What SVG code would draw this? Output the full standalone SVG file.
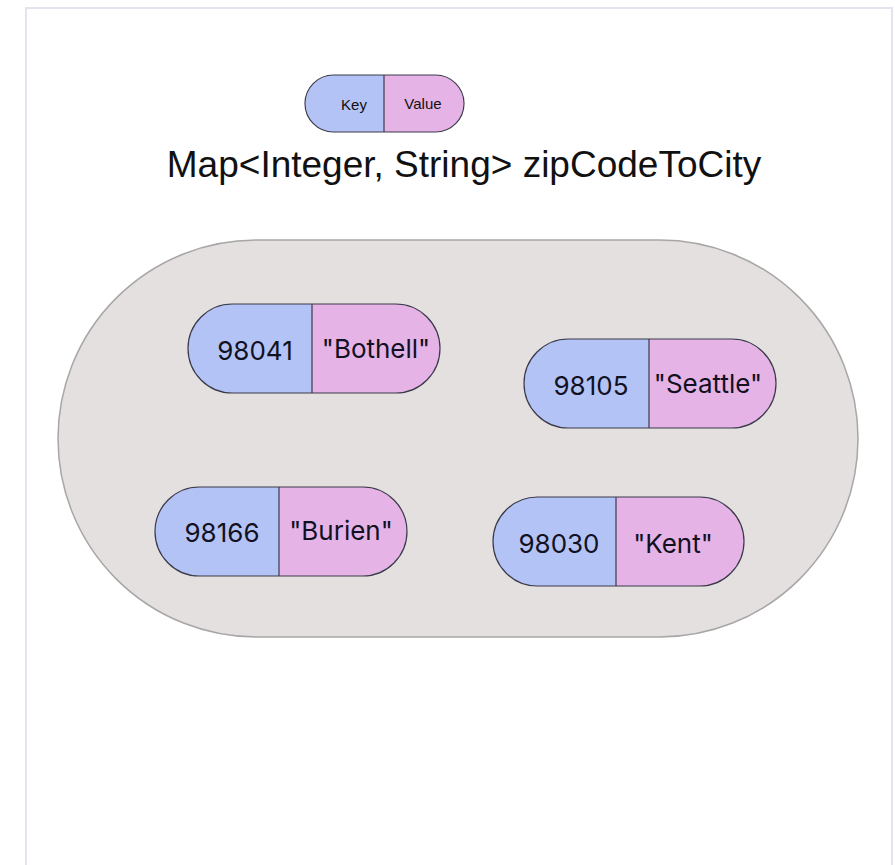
<svg xmlns="http://www.w3.org/2000/svg" width="895" height="865" viewBox="0 0 895 865">
<style>
.key{fill:#b4c3f6;}
.val{fill:#e5b3e6;}
.outline{fill:none;stroke:#3a3a4a;stroke-width:1.2;}
.div{stroke:#3a3a4a;stroke-width:1.2;}
.pt{font-family:Inter,"Noto Sans",sans-serif;font-size:26px;fill:#111122;text-anchor:middle;dominant-baseline:central;}
.lt{font-family:"Liberation Sans",Arial,sans-serif;font-size:15px;fill:#111;text-anchor:middle;dominant-baseline:central;}
</style>
<rect width="895" height="865" fill="#ffffff"/>
<path d="M26 870 V8 H892 V870" fill="none" stroke="#e4e4ee" stroke-width="2"/>
<g id="legend">
<path class="key" d="M384 75 H334 A28.5 28.5 0 0 0 334 132 H384 Z"/>
<path class="val" d="M384 75 H435 A28.5 28.5 0 0 1 435 132 H384 Z"/>
<rect class="outline" x="305" y="75" width="159" height="57" rx="28.5"/>
<line class="div" x1="384" y1="75" x2="384" y2="132"/>
<text class="lt" x="354" y="104">Key</text>
<text class="lt" x="423" y="103">Value</text>
</g>
<g id="title">
<text x="464" y="177" font-family="'Liberation Sans',Arial,sans-serif" font-size="37" fill="#111" text-anchor="middle">Map&lt;Integer, String&gt; zipCodeToCity</text>
</g>
<g id="map">
<rect x="58" y="240" width="800" height="397" rx="198.5" fill="#e3e0df" stroke="#a8a6a6" stroke-width="1.5"/>
</g>
<g id="entry-98041">
<path class="key" d="M312 304 H232.5 A44.5 44.5 0 0 0 232.5 393 H312 Z"/>
<path class="val" d="M312 304 H395.5 A44.5 44.5 0 0 1 395.5 393 H312 Z"/>
<rect class="outline" x="188" y="304" width="252" height="89" rx="44.5"/>
<line class="div" x1="312" y1="304" x2="312" y2="393"/>
<text class="pt" x="255" y="350">98041</text>
<text class="pt" x="376" y="348">"Bothell"</text>
</g>
<g id="entry-98105">
<path class="key" d="M649 339 H568.5 A44.5 44.5 0 0 0 568.5 428 H649 Z"/>
<path class="val" d="M649 339 H731.5 A44.5 44.5 0 0 1 731.5 428 H649 Z"/>
<rect class="outline" x="524" y="339" width="252" height="89" rx="44.5"/>
<line class="div" x1="649" y1="339" x2="649" y2="428"/>
<text class="pt" x="591" y="385">98105</text>
<text class="pt" x="708" y="383">"Seattle"</text>
</g>
<g id="entry-98166">
<path class="key" d="M279 487 H199.5 A44.5 44.5 0 0 0 199.5 576 H279 Z"/>
<path class="val" d="M279 487 H362.5 A44.5 44.5 0 0 1 362.5 576 H279 Z"/>
<rect class="outline" x="155" y="487" width="252" height="89" rx="44.5"/>
<line class="div" x1="279" y1="487" x2="279" y2="576"/>
<text class="pt" x="222" y="532">98166</text>
<text class="pt" x="341" y="530">"Burien"</text>
</g>
<g id="entry-98030">
<path class="key" d="M616 497 H537.5 A44.5 44.5 0 0 0 537.5 586 H616 Z"/>
<path class="val" d="M616 497 H699.5 A44.5 44.5 0 0 1 699.5 586 H616 Z"/>
<rect class="outline" x="493" y="497" width="251" height="89" rx="44.5"/>
<line class="div" x1="616" y1="497" x2="616" y2="586"/>
<text class="pt" x="559" y="543">98030</text>
<text class="pt" x="673" y="543">"Kent"</text>
</g>
<g id="connectors"></g>
</svg>
